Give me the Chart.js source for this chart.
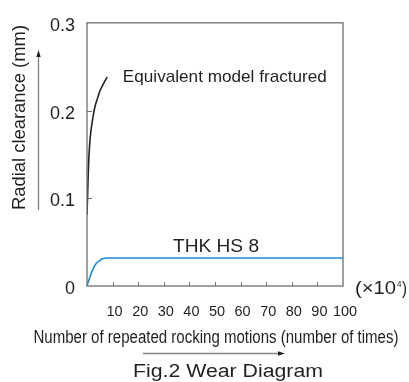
<!DOCTYPE html>
<html lang="en">
  <head>
    <meta charset="UTF-8" />
    <script src="https://cdn.jsdelivr.net/npm/chart.js@4/dist/chart.umd.min.js"></script>
    <title>Wear Diagram</title>
    <style>
      html,
      body {
        margin: 0;
        padding: 0;
        background-color: rgb(255, 255, 255);
      }

      canvas {
        display: block;
      }
    </style>
  </head>
  <body>
    <canvas id="myChart" width="409" height="382"></canvas>
    <script>
      // readings taken off the figure (x in units of 10^4 motions, y in mm)
      const fracturedX = [0, 0.3, 0.6, 1.0, 1.5, 2.2, 3.0, 4.0, 5.0, 6.5, 7.9];
      const fracturedY = [0.081, 0.11, 0.138, 0.16, 0.176, 0.19, 0.203, 0.213, 0.222, 0.231, 0.238];
      const thkX = [0, 1, 2, 3, 4, 5, 6, 8, 10, 100];
      const thkY = [0, 0.009, 0.017, 0.023, 0.027, 0.029, 0.031, 0.032, 0.032, 0.032];
      const xTicks = [10, 20, 30, 40, 50, 60, 70, 80, 90, 100];
      const yTicks = [0, 0.1, 0.2, 0.3];

      const SANS = "'Liberation Sans', Arial, sans-serif";
      const NARROW = "'Liberation Sans Narrow', 'Liberation Sans', Arial, sans-serif";
      const INK = "#231f20";

      function toPoints(xs, ys) {
        return xs.map((x, i) => ({ x: x, y: ys[i] }));
      }

      // draw text squeezed/stretched to a target width
      function fitText(ctx, text, x, y, width, size, family, align) {
        ctx.save();
        ctx.font = size + "px " + family;
        const w = ctx.measureText(text).width;
        const sx = width / w;
        ctx.translate(x, y);
        ctx.scale(sx, 1);
        ctx.textBaseline = "middle";
        ctx.textAlign = align || "center";
        ctx.fillText(text, 0, 0);
        ctx.restore();
      }

      function arrowHead(ctx, x, y, angle) {
        ctx.save();
        ctx.translate(x, y);
        ctx.rotate(angle);
        ctx.beginPath();
        ctx.moveTo(0, 0);
        ctx.lineTo(-7, -2.2);
        ctx.lineTo(-7, 2.2);
        ctx.closePath();
        ctx.fill();
        ctx.restore();
      }

      const decorations = {
        id: "decorations",
        afterDraw(chart) {
          const ctx = chart.ctx;
          const a = chart.chartArea;
          const xs = chart.scales.x;
          const ys = chart.scales.y;

          // frame
          ctx.save();
          ctx.strokeStyle = "#6d6e71";
          ctx.lineWidth = 1.3;
          ctx.strokeRect(a.left, a.top, a.right - a.left, a.bottom - a.top);

          // inward tick marks
          ctx.beginPath();
          xTicks.slice(0, -1).forEach(v => {
            const px = Math.round(xs.getPixelForValue(v)) + 0.5;
            ctx.moveTo(px, a.bottom);
            ctx.lineTo(px, a.bottom - 4);
          });
          [0.1, 0.2].forEach(v => {
            const py = Math.round(ys.getPixelForValue(v)) + 0.5;
            ctx.moveTo(a.left, py);
            ctx.lineTo(a.left + 5, py);
          });
          ctx.lineWidth = 1;
          ctx.stroke();

          ctx.fillStyle = INK;

          // curve labels, anchored in data space
          fitText(ctx, "Equivalent model fractured",
            xs.getPixelForValue(14), ys.getPixelForValue(0.238), 204, 17, SANS, "left");
          fitText(ctx, "THK HS 8",
            xs.getPixelForValue(33.6), ys.getPixelForValue(0.045), 86, 19, SANS, "left");

          // (x10^4) multiplier
          const mx = a.right + 12;
          const my = a.bottom + 3;
          fitText(ctx, "(\u00d710", mx, my, 41, 18, NARROW, "left");
          fitText(ctx, "4", mx + 42, my - 4, 4.5, 9, NARROW, "left");
          fitText(ctx, ")", mx + 47, my, 5, 18, NARROW, "left");

          // axis titles
          fitText(ctx, "Number of repeated rocking motions (number of times)",
            216, 338, 365, 18, NARROW, "center");
          ctx.save();
          ctx.translate(20, 117.5);
          ctx.rotate(-Math.PI / 2);
          fitText(ctx, "Radial clearance (mm)", 0, 0, 185, 19, NARROW, "center");
          ctx.restore();

          // caption
          fitText(ctx, "Fig.2 Wear Diagram", 228, 372, 190, 18, SANS, "center");

          // direction arrows
          ctx.strokeStyle = "#808285";
          ctx.lineWidth = 1.3;
          ctx.beginPath();
          ctx.moveTo(143, 353.5);
          ctx.lineTo(279, 353.5);
          ctx.moveTo(38.5, 210);
          ctx.lineTo(38.5, 56);
          ctx.stroke();
          ctx.fillStyle = INK;
          arrowHead(ctx, 285, 353.5, 0);
          arrowHead(ctx, 38.5, 50, -Math.PI / 2);
          ctx.restore();
        },
      };

      const ctx = document.getElementById("myChart").getContext("2d");
      const myChart = new Chart(ctx, {
        type: "line",
        data: {
          datasets: [
            {
              label: "Equivalent model fractured",
              data: toPoints(fracturedX, fracturedY),
              borderColor: "#231f20",
              borderWidth: 1.6,
              pointRadius: 0,
              cubicInterpolationMode: "monotone",
              fill: false,
            },
            {
              label: "THK HS 8",
              data: toPoints(thkX, thkY),
              borderColor: "#1c8ad6",
              borderWidth: 1.6,
              pointRadius: 0,
              cubicInterpolationMode: "monotone",
              fill: false,
            },
          ],
        },
        options: {
          responsive: false,
          animation: false,
          devicePixelRatio: 1,
          layout: {
            padding: { top: 13, right: 66, left: 0, bottom: 0 },
          },
          plugins: {
            legend: { display: false },
            tooltip: { enabled: false },
          },
          scales: {
            x: {
              type: "linear",
              min: 0,
              max: 100,
              afterBuildTicks: scale => {
                scale.ticks = [0].concat(xTicks).map(v => ({ value: v }));
              },
              afterFit: scale => {
                scale.height = 96;
              },
              ticks: {
                callback: v => (v === 0 ? "" : v),
                font: { family: SANS, size: 14.5 },
                color: INK,
                padding: 17,
                maxRotation: 0,
                autoSkip: false,
                labelOffset: 2,
              },
              grid: { display: false, drawTicks: false },
              border: { display: false },
            },
            y: {
              type: "linear",
              min: 0,
              max: 0.3,
              afterBuildTicks: scale => {
                scale.ticks = yTicks.map(v => ({ value: v }));
              },
              afterFit: scale => {
                scale.width = 87;
              },
              ticks: {
                callback: v => (v === 0 ? "0" : v.toFixed(1)),
                font: { family: SANS, size: 18 },
                color: INK,
                padding: 12,
                labelOffset: 3,
              },
              grid: { display: false, drawTicks: false },
              border: { display: false },
            },
          },
        },
        plugins: [decorations],
      });
    </script>
  </body>
</html>
